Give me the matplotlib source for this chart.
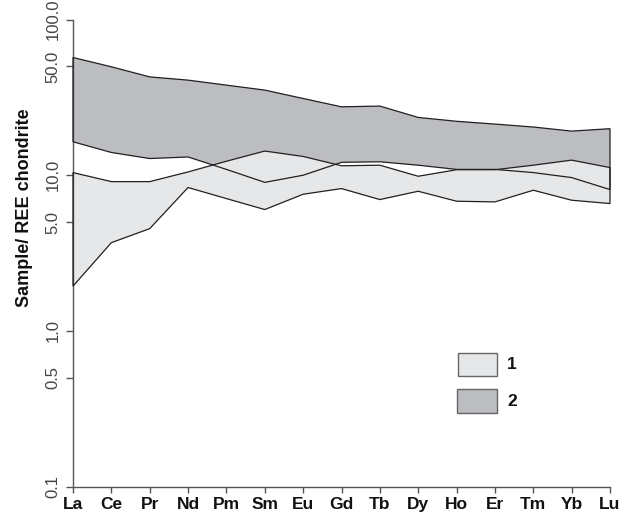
import matplotlib
matplotlib.use("Agg")
import matplotlib.pyplot as plt
from matplotlib.patches import Rectangle

plt.rcParams['font.family'] = ['Liberation Sans', 'DejaVu Sans']

elements = ['La', 'Ce', 'Pr', 'Nd', 'Pm', 'Sm', 'Eu', 'Gd', 'Tb', 'Dy', 'Ho', 'Er', 'Tm', 'Yb', 'Lu']
s1_upper = [10.4, 9.1, 9.1, 10.5, 12.3, 14.3, 13.2, 11.5, 11.6, 9.85, 10.85, 10.85, 11.6, 12.5, 11.2]
s1_lower = [1.94, 3.69, 4.54, 8.34, 7.08, 6.02, 7.55, 8.21, 6.98, 7.89, 6.81, 6.74, 8.01, 6.91, 6.58]
s2_upper = [57.0, 49.7, 42.8, 40.8, 37.9, 35.2, 31.1, 27.5, 27.8, 23.5, 22.2, 21.3, 20.4, 19.2, 19.9]
s2_lower = [16.4, 14.0, 12.8, 13.1, 10.9, 9.0, 10.0, 12.1, 12.2, 11.6, 10.9, 10.9, 10.4, 9.66, 8.09]
yticks = [0.1, 0.5, 1.0, 5.0, 10.0, 50.0, 100.0]
ytick_labels = ['0.1', '0.5', '1.0', '5.0', '10.0', '50.0', '100.0']
legend_labels = ['1', '2']

W, H = 631, 519
fig = plt.figure(figsize=(W / 100, H / 100), dpi=100)
left, right, top, bottom = 73, 610, 19.5, 486.7
ax = fig.add_axes([left / W, (H - bottom) / H, (right - left) / W, (bottom - top) / H])

light = '#e6e7e8'
dark = '#bcbdc0'
edge = '#231f20'

x = list(range(len(elements)))
poly2_x = x + x[::-1]
poly2_y = s2_upper + s2_lower[::-1]
poly1_x = x + x[::-1]
poly1_y = s1_upper + s1_lower[::-1]

ax.fill(poly2_x, poly2_y, facecolor=dark, edgecolor='none', zorder=1)
ax.fill(poly1_x, poly1_y, facecolor=light, edgecolor='none', zorder=2)
ax.fill(poly2_x, poly2_y, facecolor='none', edgecolor=edge, lw=0.9, zorder=3, clip_on=False)
ax.fill(poly1_x, poly1_y, facecolor='none', edgecolor=edge, lw=0.9, zorder=3, clip_on=False)

ax.set_yscale('log')
ax.set_xlim(0, len(elements) - 1)
ax.set_ylim(0.1, 100)
ax.set_yticks(yticks)
ax.set_yticklabels(ytick_labels, rotation=90, va='center', fontsize=12, color='#444444')
ax.yaxis.set_minor_locator(matplotlib.ticker.NullLocator())
ax.set_xticks(x)
ax.set_xticklabels(elements, fontsize=12.5, fontweight='bold', color='#111111')

for s in ['top', 'right']:
    ax.spines[s].set_visible(False)
for s in ['left', 'bottom']:
    ax.spines[s].set_color('#555555')
    ax.spines[s].set_linewidth(1.0)
ax.tick_params(axis='y', length=5, width=1, color='#555555', pad=4)
ax.tick_params(axis='x', length=4.5, width=1, color='#555555', pad=3)

fig.text(25 / W, (H - 208) / H, 'Sample/ REE chondrite', rotation=90, ha='center', va='center',
         fontsize=13, fontweight='bold', color='#111111')

# legend boxes
box_w, box_h = 39.6, 23.3
boxes = [(457.7, 376.0, light), (457.0, 412.7, dark)]
for (bx, by, col), lab in zip(boxes, legend_labels):
    ax_x = (bx - left) / (right - left)
    ax_y = (bottom - by) / (bottom - top)
    ax.add_patch(Rectangle((ax_x, ax_y), box_w / (right - left), box_h / (bottom - top),
                           transform=ax.transAxes, facecolor=col, edgecolor='#666666', lw=1.0, zorder=5))
    ax.text((507 - left) / (right - left), ax_y + box_h / 2 / (bottom - top), lab,
            transform=ax.transAxes, ha='left', va='center', fontsize=12.5, fontweight='bold', color='#111111')

fig.savefig('out.png', dpi=100)
